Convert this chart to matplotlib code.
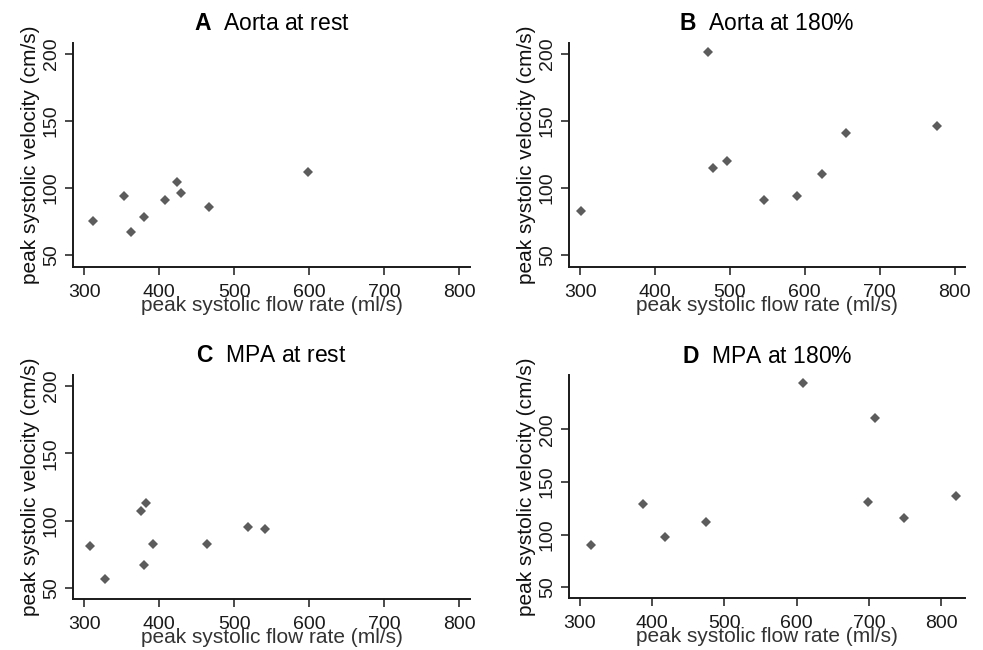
import matplotlib
matplotlib.use("Agg")
import matplotlib.pyplot as plt

plt.rcParams['font.family'] = ['Liberation Sans', 'DejaVu Sans']
plt.rcParams['mathtext.fontset'] = 'custom'
plt.rcParams['mathtext.rm'] = 'Liberation Sans'
plt.rcParams['mathtext.bf'] = 'Liberation Sans:bold'

# Data
titles = ["A", "B", "C", "D"]
subtitles = ["Aorta at rest", "Aorta at 180%", "MPA at rest", "MPA at 180%"]

aorta_rest_flow = [311, 353, 362, 379, 408, 423, 429, 466, 598]
aorta_rest_vel = [75, 94, 67, 78, 91, 104, 96, 86, 112]

aorta_180_flow = [301, 471, 477, 496, 545, 589, 623, 655, 776]
aorta_180_vel = [83, 201, 115, 120, 91, 94, 110, 141, 146]

mpa_rest_flow = [308, 328, 376, 382, 379, 391, 463, 518, 541]
mpa_rest_vel = [81, 57, 107, 113, 67, 83, 83, 95, 94]

mpa_180_flow = [316, 388, 418, 475, 609, 709, 699, 748, 820]
mpa_180_vel = [90, 129, 98, 112, 244, 211, 131, 116, 137]

x_ticks = [300, 400, 500, 600, 700, 800]
y_ticks = [50, 100, 150, 200]
xlabel = "peak systolic flow rate (ml/s)"
ylabel = "peak systolic velocity (cm/s)"

series = [
    (aorta_rest_flow, aorta_rest_vel),
    (aorta_180_flow, aorta_180_vel),
    (mpa_rest_flow, mpa_rest_vel),
    (mpa_180_flow, mpa_180_vel),
]

W, H = 983, 650
fig = plt.figure(figsize=(W / 100, H / 100), dpi=100)

# axes boxes in pixels: left, right, top, bottom
boxes = [
    (73, 470, 43, 267),
    (569, 965, 43, 267),
    (73, 470, 375, 599),
    (569, 965, 375, 598),
]
xlims = [(285, 814), (285, 814), (285, 814), (285, 833)]
ylims = [(41, 208), (41, 208), (42, 208), (40, 251.5)]

for i, ((xs, ys), (l, r, t, b)) in enumerate(zip(series, boxes)):
    ax = fig.add_axes([l / W, 1 - b / H, (r - l) / W, (b - t) / H])
    ax.plot(xs, ys, linestyle='none', marker='D', ms=5.2,
            color='#5c5c5c', markeredgewidth=0)
    ax.set_xlim(*xlims[i])
    ax.set_ylim(*ylims[i])
    ax.set_xticks(x_ticks)
    ax.set_yticks(y_ticks)
    for s in ['top', 'right']:
        ax.spines[s].set_visible(False)
    for s in ['left', 'bottom']:
        ax.spines[s].set_linewidth(1.4)
        ax.spines[s].set_color('#1a1a1a')
    ax.tick_params(axis='both', length=5.5, width=1.1, color='#1a1a1a',
                   labelsize=14, labelcolor='#1a1a1a')
    ax.tick_params(axis='x', pad=7)
    ax.tick_params(axis='y', pad=4)
    for lab in ax.get_yticklabels():
        lab.set_rotation(90)
        lab.set_va('center')
    ax.set_xlabel(xlabel, fontsize=15, labelpad=-4, color='#333333')
    ax.set_ylabel(ylabel, fontsize=15, labelpad=2, color='#111111')
    ax.set_title(r"$\mathbf{" + titles[i] + "}$  " + subtitles[i],
                 fontsize=16.5, pad=9)

fig.savefig("out.png", dpi=100)
